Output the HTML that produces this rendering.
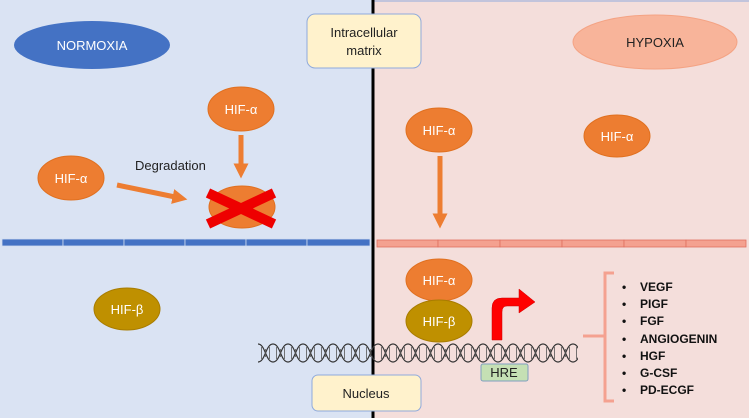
<!DOCTYPE html><html><head><style>body{margin:0;overflow:hidden}svg{display:block}svg text{font-family:"Liberation Sans",sans-serif}</style></head><body>
<svg width="749" height="418" viewBox="0 0 749 418" xmlns="http://www.w3.org/2000/svg">
<defs>
<marker id="ah" viewBox="0 0 10 10" refX="5" refY="5" markerWidth="3" markerHeight="3" orient="auto"><path d="M0,0L10,5L0,10z" fill="#ed7d31"/></marker>
<pattern id="dna" x="258" y="343" width="15" height="20" patternUnits="userSpaceOnUse">
<path d="M0,1 C7.5,1 7.5,19 15,19 M0,19 C7.5,19 7.5,1 15,1" fill="none" stroke="#333" stroke-width="1.2"/>
<path d="M3.5,4v12M7.5,6v8M11.5,4v12" stroke="#555" stroke-width="0.8"/>
</pattern>
</defs>
<rect x="0" y="0" width="374" height="418" fill="#dae3f3"/>
<rect x="374" y="0" width="375" height="418" fill="#f4dedb"/>
<line x1="374" y1="1" x2="749" y2="1" stroke="#8faadc" stroke-width="1"/>
<line x1="373" y1="0" x2="373" y2="418" stroke="#000" stroke-width="3"/>
<ellipse cx="92" cy="45" rx="78" ry="24" fill="#4472c4"/>
<text x="92" y="50" fill="#fff" font-size="13" text-anchor="middle">NORMOXIA</text>
<ellipse cx="655" cy="42" rx="82" ry="27" fill="#f8b49a" stroke="#f4a384"/>
<text x="655" y="47" fill="#222" font-size="13" text-anchor="middle">HYPOXIA</text>
<rect x="307" y="14" width="114" height="54" rx="8" fill="#fff2cc" stroke="#8faadc"/>
<text x="364" y="37" font-size="13" text-anchor="middle" fill="#222">Intracellular</text>
<text x="364" y="55" font-size="13" text-anchor="middle" fill="#222">matrix</text>
<g fill="#ed7d31" stroke="#e07020">
<ellipse cx="241" cy="109" rx="33" ry="22"/>
<ellipse cx="71" cy="178" rx="33" ry="22"/>
<ellipse cx="242" cy="207" rx="33" ry="21"/>
<ellipse cx="439" cy="130" rx="33" ry="22"/>
<ellipse cx="617" cy="136" rx="33" ry="21"/>
<ellipse cx="439" cy="280" rx="33" ry="21"/>
</g>
<g fill="#fff" font-size="13" text-anchor="middle">
<text x="241" y="114">HIF-α</text><text x="71" y="183">HIF-α</text>
<text x="439" y="135">HIF-α</text><text x="617" y="141">HIF-α</text><text x="439" y="285">HIF-α</text>
</g>
<text x="135" y="170" font-size="13" fill="#222">Degradation</text>
<line x1="117" y1="185" x2="180" y2="198" stroke="#ed7d31" stroke-width="5" marker-end="url(#ah)"/>
<line x1="241" y1="135" x2="241" y2="171" stroke="#ed7d31" stroke-width="5" marker-end="url(#ah)"/>
<line x1="440" y1="156" x2="440" y2="221" stroke="#ed7d31" stroke-width="5" marker-end="url(#ah)"/>
<g stroke="#e00" stroke-width="10"><line x1="208" y1="193" x2="274" y2="224"/><line x1="208" y1="224" x2="274" y2="193"/></g>
<g fill="#4472c4" stroke="#d0dcef" stroke-width="0.8">
<rect x="2" y="239" width="61" height="7"/><rect x="63" y="239" width="61" height="7"/><rect x="124" y="239" width="61" height="7"/><rect x="185" y="239" width="61" height="7"/><rect x="246" y="239" width="61" height="7"/><rect x="307" y="239" width="63" height="7"/>
</g>
<g fill="#f4a190" stroke="#e07060" stroke-width="0.8">
<rect x="377" y="240" width="61" height="7"/><rect x="438" y="240" width="62" height="7"/><rect x="500" y="240" width="62" height="7"/><rect x="562" y="240" width="62" height="7"/><rect x="624" y="240" width="62" height="7"/><rect x="686" y="240" width="60" height="7"/>
</g>
<g fill="#bf9000" stroke="#a87c00">
<ellipse cx="127" cy="309" rx="33" ry="21"/><ellipse cx="439" cy="321" rx="33" ry="21"/>
</g>
<g fill="#fff" font-size="13" text-anchor="middle"><text x="127" y="314">HIF-β</text><text x="439" y="326">HIF-β</text></g>
<rect x="258" y="343" width="320" height="20" fill="url(#dna)"/>
<path d="M492,340 V308 Q492,298 502,298 H519 V289 L535,302 L519,313 V306 H507 Q502,306 502,312 V340 Z" fill="#f00" stroke="#c00" stroke-width="0.5"/>
<rect x="481" y="364" width="47" height="17" rx="2" fill="#c5e0b4" stroke="#7f9fbf"/>
<text x="504" y="377" font-size="13" text-anchor="middle" fill="#222">HRE</text>
<rect x="312" y="375" width="109" height="36" rx="6" fill="#fff2cc" stroke="#8faadc"/>
<text x="366" y="398" font-size="13" text-anchor="middle" fill="#222">Nucleus</text>
<path d="M614,273 H605 V401 H614 M605,336 H583" fill="none" stroke="#f4a190" stroke-width="3"/>
<g font-size="12" font-weight="bold" fill="#111">
<text x="622" y="291">•</text><text x="640" y="291">VEGF</text>
<text x="622" y="308">•</text><text x="640" y="308">PIGF</text>
<text x="622" y="325">•</text><text x="640" y="325">FGF</text>
<text x="622" y="343">•</text><text x="640" y="343">ANGIOGENIN</text>
<text x="622" y="360">•</text><text x="640" y="360">HGF</text>
<text x="622" y="377">•</text><text x="640" y="377">G-CSF</text>
<text x="622" y="394">•</text><text x="640" y="394">PD-ECGF</text>
</g>
</svg></body></html>
